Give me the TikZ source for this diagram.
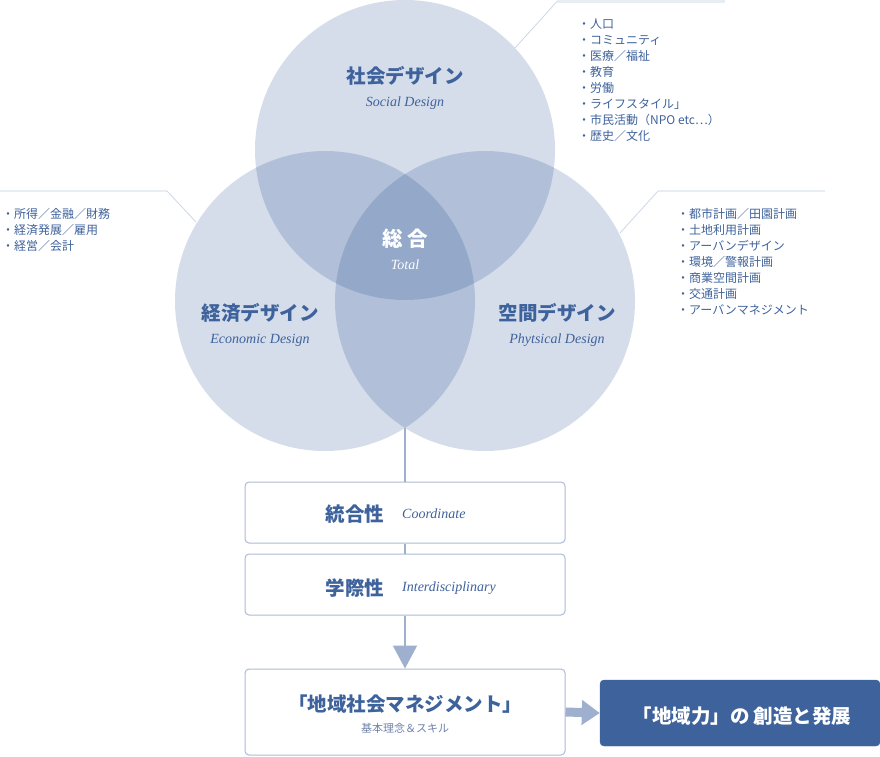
\documentclass[tikz,border=0pt]{standalone}
\usepackage{fontspec}
\setmainfont{Liberation Serif}
\newfontfamily\jp{Noto Sans CJK JP}
\usetikzlibrary{arrows.meta,positioning}
\definecolor{vennBlue}{RGB}{4,52,129}
\definecolor{textBlue}{RGB}{62,98,156}
\definecolor{subBlue}{RGB}{110,130,170}
\definecolor{lineBlue}{RGB}{172,186,212}
\definecolor{flowBlue}{RGB}{158,176,206}
\definecolor{linkBlue}{RGB}{205,214,232}
\definecolor{calloutGray}{RGB}{232,236,243}

\tikzset{
  vennCircle/.style={circle, minimum size=300pt, inner sep=0pt, fill=vennBlue, fill opacity=0.167},
  headJp/.style={font=\jp\bfseries\fontsize{19.5}{22}\selectfont, text=textBlue, inner sep=0pt},
  subEn/.style={font=\itshape\fontsize{14}{16}\selectfont, text=textBlue, inner sep=0pt},
  listItem/.style={font=\jp\fontsize{12}{14}\selectfont, text=textBlue, anchor=west, inner sep=0pt},
  flowBox/.style={draw=lineBlue, line width=1pt, rounded corners=4pt, minimum width=320pt, fill=white},
  calloutBar/.style={draw=calloutGray, line width=2.5pt, line cap=butt},
  calloutLink/.style={draw=linkBlue, line width=0.8pt},
  flowLine/.style={draw=flowBlue, line width=2pt, line cap=butt}
}

\begin{document}
\begin{tikzpicture}[x=1pt, y=-1pt, line join=round]
    \useasboundingbox (0,0) rectangle (880,756);

    % callout lines
    \coordinate (socTip) at (515,48);
    \coordinate (socKnee) at (557,1.5);
    \coordinate (socEnd) at (725,1.5);
    \coordinate (ecoTip) at (196,222);
    \coordinate (ecoKnee) at (167,191);
    \coordinate (ecoEnd) at (0,191);
    \coordinate (spaTip) at (620,233);
    \coordinate (spaKnee) at (658,191);
    \coordinate (spaEnd) at (825,191);
    \draw[calloutLink] (socTip) -- (socKnee);
    \draw[calloutBar] (socKnee) -- (socEnd);
    \draw[calloutLink] (ecoTip) -- (ecoKnee);
    \draw[calloutBar] (ecoKnee) -- (ecoEnd);
    \draw[calloutLink] (spaTip) -- (spaKnee);
    \draw[calloutBar] (spaKnee) -- (spaEnd);

    % venn
    \node[vennCircle] (social) at (405,150) {};
    \node[vennCircle] (economic) at (325,301) {};
    \node[vennCircle] (spatial) at (485,301) {};

    \node[headJp] (socialJp) at (405,76) {社会デザイン};
    \node[subEn] (socialEn) at (405,103) {Social Design};
    \node[headJp] (economicJp) at (260,313) {経済デザイン};
    \node[subEn] (economicEn) at (260,340) {Economic Design};
    \node[headJp] (spatialJp) at (557,313) {空間デザイン};
    \node[subEn] (spatialEn) at (557,340) {Phytsical Design};
    \node[headJp, text=white, font=\jp\bfseries\fontsize{20.5}{22}\selectfont] (totalJp) at (405,239) {総\hspace{5pt}合};
    \node[subEn, text=white] (totalEn) at (405,265) {Total};

    % lists
    \foreach \txt [count=\i] in {人口, コミュニティ, 医療／福祉, 教育, 労働, ライフスタイル」, 市民活動（NPO etc…）, 歴史／文化}
        \node[listItem] (soc-\i) at (578,8+16*\i) {・\txt};
    \foreach \txt [count=\i] in {所得／金融／財務, 経済発展／雇用, 経営／会計}
        \node[listItem] (eco-\i) at (2,198+16*\i) {・\txt};
    \foreach \txt [count=\i] in {都市計画／田園計画, 土地利用計画, アーバンデザイン, 環境／警報計画, 商業空間計画, 交通計画, アーバンマネジメント}
        \node[listItem] (spa-\i) at (677,198+16*\i) {・\txt};

    % flow
    \coordinate (lensBottom) at (405,428);
    \node[flowBox, minimum height=61pt] (coord) at (405,512.5) {};
    \node[flowBox, minimum height=61pt] (inter) at (405,584.5) {};
    \node[flowBox, minimum height=86pt] (manage) at (405,712) {};
    \node[draw=textBlue, fill=textBlue, rounded corners=4pt, minimum width=280pt, minimum height=66pt] (result) at (740,713) {};

    \node[headJp] (coordJp) at (355,514) {統合性};
    \node[subEn, anchor=west] (coordEn) at (402,514) {Coordinate};
    \node[headJp] (interJp) at (355,588) {学際性};
    \node[subEn, anchor=west] (interEn) at (402,588) {Interdisciplinary};
    \node[headJp] (manageJp) at (405,704) {「地域社会マネジメント」};
    \node[listItem, anchor=center, text=subBlue, font=\jp\fontsize{11}{13}\selectfont] (manageSub) at (405,728) {基本理念＆スキル};
    \node[headJp, text=white] (resultJp) at (742,716) {「地域力」の 創造と発展};

    \draw[flowLine] (lensBottom) -- (coord.north);
    \draw[flowLine] (coord.south) -- (inter.north);
    \draw[flowLine, -{Triangle[width=24pt, length=23pt]}] (inter.south) -- (manage.north);
    \draw[flowBlue, line width=9pt, -{Triangle[width=24pt, length=18pt]}] (manage.east) -- (result.west);
\end{tikzpicture}
\end{document}
